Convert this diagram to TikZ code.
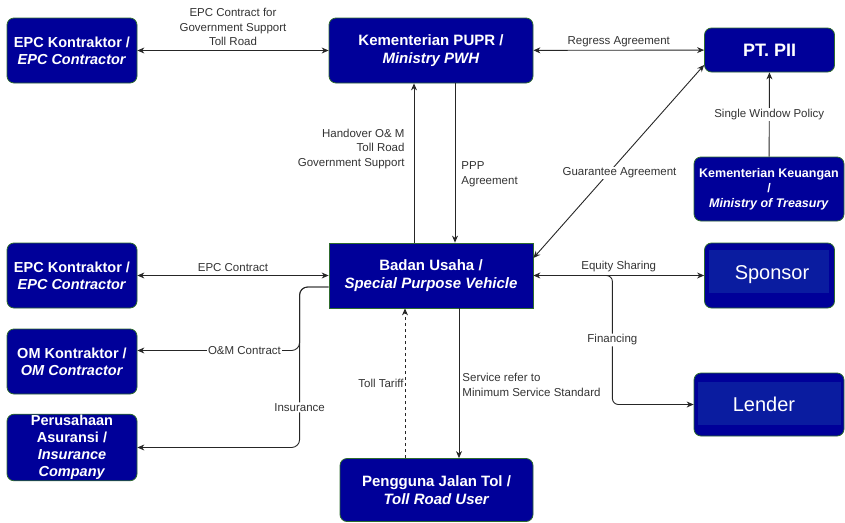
\documentclass[tikz,border=0pt]{standalone}
\usepackage{fontspec}
\setmainfont{Liberation Sans}
\usepackage{tikz}
\usetikzlibrary{positioning, arrows.meta, calc}
\definecolor{navy}{HTML}{000099}
\definecolor{navylt}{HTML}{0A1CA0}
\definecolor{boxline}{HTML}{2E6B2E}
\definecolor{textgray}{HTML}{333333}

\begin{document}
\begin{tikzpicture}[
    x=1pt, y=-1pt,
    party/.style={draw=boxline, line width=0.8pt, fill=navy, rounded corners=7pt, text=white, align=center, inner sep=1pt, font=\bfseries\fontsize{14.5}{17}\selectfont},
    spvbox/.style={party, rounded corners=0pt, font=\bfseries\fontsize{15}{18}\selectfont},
    inbox/.style={fill=navylt, inner sep=0pt},
    bigtxt/.style={text=white, inner sep=0pt, font=\fontsize{20}{24}\selectfont},
    arrow/.style={-{Stealth[length=7pt, width=6pt]}, line width=0.9pt, draw=black!85},
    twoway/.style={arrow, {Stealth[length=7pt, width=6pt]}-{Stealth[length=7pt, width=6pt]}},
    lbl/.style={text=textgray, align=center, inner sep=1pt, font=\fontsize{11.5}{14.5}\selectfont},
    cut/.style={lbl, fill=white}
  ]
  \useasboundingbox (0,0) rectangle (845,522);

  % left column
  \node[party, minimum width=130pt, minimum height=65pt] (epcA) at (72,50.5) {EPC Kontraktor /\\\textit{EPC Contractor}};
  \node[party, minimum width=130pt, minimum height=65pt] (epcB) at (72,275.5) {EPC Kontraktor /\\\textit{EPC Contractor}};
  \node[party, minimum width=130pt, minimum height=65pt] (om) at (72,361.5) {OM Kontraktor /\\\textit{OM Contractor}};
  \node[party, minimum width=130pt, minimum height=65pt] (insur) at (72,447.5) {Perusahaan\\Asuransi /\\\textit{Insurance}\\\textit{Company}};

  % middle column
  \node[spvbox, rounded corners=7pt, minimum width=204pt, minimum height=65pt] (pupr) at (431,50.5) {Kementerian PUPR /\\\textit{Ministry PWH}};
  \node[spvbox, minimum width=204pt, minimum height=65pt] (spv) at (431,275.5) {Badan Usaha /\\\textit{Special Purpose Vehicle}};
  \node[spvbox, rounded corners=7pt, minimum width=193pt, minimum height=63pt] (user) at (436.5,490) {Pengguna Jalan Tol /\\\textit{Toll Road User}};

  % right column
  \node[party, minimum width=130pt, minimum height=44pt, font=\bfseries\fontsize{18}{21}\selectfont] (pii) at (769.5,50) {PT. PII};
  \node[party, minimum width=150pt, minimum height=64pt, font=\bfseries\fontsize{12.5}{15}\selectfont] (kemenkeu) at (769,189) {Kementerian Keuangan\\/\\\textit{Ministry of Treasury}};
  \node[party, minimum width=130pt, minimum height=65pt] (sponsor) at (769.5,275.5) {};
  \node[inbox, minimum width=120pt, minimum height=43pt] (sponsorbg) at (769,271.5) {};
  \node[bigtxt] (sponsortxt) at (772,275) {Sponsor};
  \node[party, minimum width=150pt, minimum height=63pt] (lender) at (769,404.5) {};
  \node[inbox, minimum width=143pt, minimum height=43pt] (lenderbg) at (769.5,403.5) {};
  \node[bigtxt] (lendertxt) at (764,404) {Lender};

  % edges
  \draw[twoway] (epcA) -- node[lbl, above=3pt] {EPC Contract for\\Government Support\\Toll Road} (pupr);
  \draw[twoway] (pupr) -- node[lbl, above=2pt] {Regress Agreement} (pii);
  \draw[arrow] (kemenkeu) -- node[cut] {Single Window Policy} (pii);
  \draw[twoway] ([yshift=17.5pt]spv.east) -- node[cut, pos=0.44, xshift=11pt] {Guarantee Agreement} ([yshift=-15pt]pii.west);
  \draw[arrow] ([xshift=-17pt]spv.north) -- node[lbl, pos=0.59, left=8pt, align=right] {Handover O\& M\\Toll Road\\Government Support} ([xshift=-17pt]pupr.south);
  \draw[arrow] ([xshift=24pt]pupr.south) -- node[lbl, pos=0.57, right=5pt, align=left] {PPP\\Agreement} ([xshift=24pt]spv.north);
  \draw[twoway] (epcB) -- node[lbl, above=2pt] {EPC Contract} (spv);
  \draw[arrow, rounded corners=8pt] ([yshift=-11.5pt]spv.west) -- ++(-29,0) |- node[cut, pos=0.67] {O\&M Contract} ([yshift=11pt]om.east);
  \draw[arrow, rounded corners=8pt] ([yshift=-11.5pt]spv.west) -- ++(-29,0) |- node[cut, pos=0.375] {Insurance} (insur.east);
  \draw[arrow, dashed] ([xshift=-31.5pt]user.north) -- node[lbl, left] {Toll Tariff} ([xshift=-26pt]spv.south);
  \draw[arrow] ([xshift=28pt]spv.south) -- node[lbl, pos=0.51, right=2pt, align=left] {Service refer to\\Minimum Service Standard} ([xshift=22.5pt]user.north);
  \draw[twoway] (spv) -- node[lbl, above=2pt] {Equity Sharing} (sponsor);
  \coordinate (fin) at ($(spv.east)!0.41!(sponsor.west)$);
  \draw[arrow, rounded corners=6pt] (fin) -- ++(9,0) |- node[cut, pos=0.25] {Financing} (lender.west);

\end{tikzpicture}
\end{document}
